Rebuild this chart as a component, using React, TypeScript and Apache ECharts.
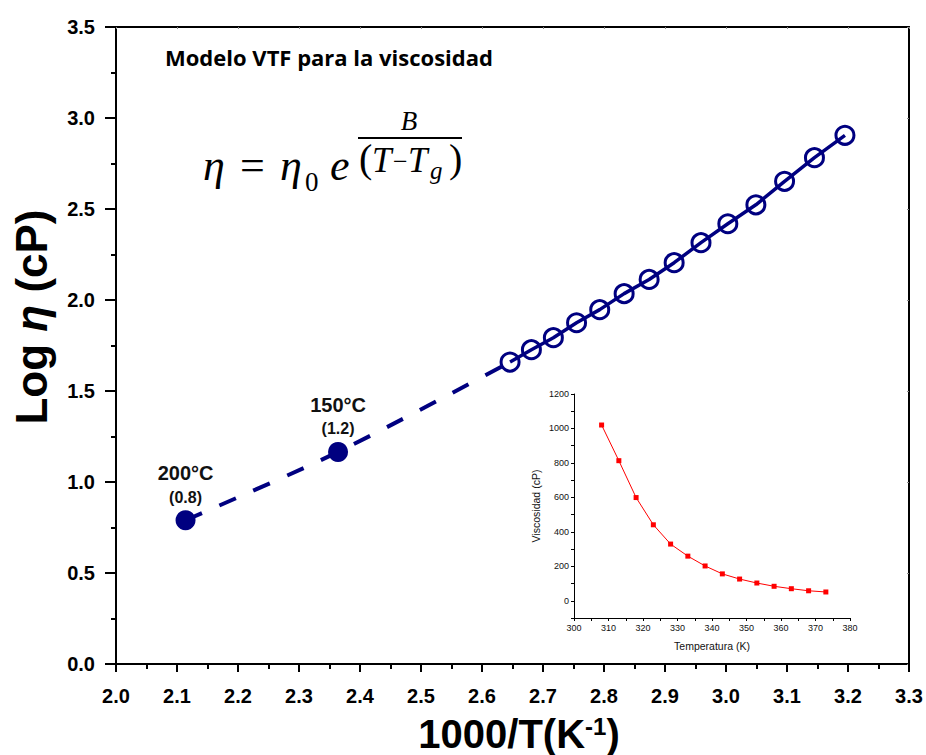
import React, { useEffect, useRef } from "react";
import * as echarts from "echarts";

// Main data: 1000/T vs log(viscosity)
const invT = [2.646, 2.681, 2.717, 2.755, 2.793, 2.833, 2.874, 2.915, 2.959, 3.003, 3.049, 3.096, 3.145, 3.195];
const logEta = [1.659, 1.727, 1.793, 1.875, 1.947, 2.035, 2.113, 2.205, 2.315, 2.419, 2.523, 2.652, 2.782, 2.905];

// Extrapolated high-temperature points
const hotInvT = [2.114, 2.364];
const hotLogEta = [0.79, 1.165];
const hotTemps = ["200°C", "150°C"];
const hotValues = ["(0.8)", "(1.2)"];

// Inset data: temperature (K) vs viscosity (cP)
const insetT = [308, 313, 318, 323, 328, 333, 338, 343, 348, 353, 358, 363, 368, 373];
const insetVisc = [1020, 813, 599, 441, 329, 259, 202, 156, 126, 103, 84, 70, 58, 51];

const NAVY = "#000080";

export default function App() {
  const ref = useRef<HTMLDivElement>(null);
  useEffect(() => {
    document.body.style.margin = "0";
    if (!ref.current) return;
    const chart = echarts.init(ref.current, undefined, { renderer: "svg" });

    const mainPts = invT.map((x, i) => [x, logEta[i]]);
    const hotPts = hotInvT.map((x, i) => ({
      value: [x, hotLogEta[i]],
      label: { formatter: `{a|${hotTemps[i]}}\n{b|${hotValues[i]}}` },
    }));
    const dashPts = [...hotInvT.map((x, i) => [x, hotLogEta[i]]), [invT[0], logEta[0]]];
    const insetPts = insetT.map((t, i) => [t, insetVisc[i]]);

    const black = "#000";
    const tickFont = { fontSize: 20, fontWeight: "bold" as const, color: black, fontFamily: "Liberation Sans, Arial" };
    const serif = "Liberation Serif";

    chart.setOption({
      animation: false,
      backgroundColor: "#fff",
      grid: [
        { left: 116, top: 27, width: 793, height: 637 },
        { left: 574, top: 394, width: 276, height: 224 },
      ],
      xAxis: [
        {
          type: "value", gridIndex: 0, min: 2.0, max: 3.3, interval: 0.1, position: "bottom",
          axisLine: { onZero: false, lineStyle: { color: black, width: 2 } },
          axisTick: { length: 8, lineStyle: { color: black, width: 2 } },
          minorTick: { show: true, splitNumber: 2, length: 5, lineStyle: { color: black, width: 2 } },
          splitLine: { show: false },
          axisLabel: { ...tickFont, margin: 22, formatter: (v: number) => v.toFixed(1) },
        },
        {
          type: "value", gridIndex: 0, min: 2.0, max: 3.3, interval: 0.1, position: "top",
          axisLine: { onZero: false, lineStyle: { color: black, width: 2 } },
          axisTick: { inside: true, length: 2, lineStyle: { color: "#888", width: 1 } },
          minorTick: { show: false },
          splitLine: { show: false },
          axisLabel: { show: false },
        },
        {
          type: "value", gridIndex: 1, min: 300, max: 380, interval: 10, position: "bottom",
          name: "Temperatura (K)", nameLocation: "middle", nameGap: 22,
          nameTextStyle: { fontSize: 10.5, color: "#111", fontFamily: "Liberation Sans, Arial" },
          axisLine: { onZero: false, lineStyle: { color: black, width: 1 } },
          axisTick: { length: 3, lineStyle: { color: black, width: 1 } },
          minorTick: { show: true, splitNumber: 2, length: 3, lineStyle: { color: black, width: 1 } },
          splitLine: { show: false },
          axisLabel: { fontSize: 9, color: "#111", margin: 5, fontFamily: "Liberation Sans, Arial" },
        },
      ],
      yAxis: [
        {
          type: "value", gridIndex: 0, min: 0, max: 3.5, interval: 0.5, position: "left",
          axisLine: { onZero: false, lineStyle: { color: black, width: 2 } },
          axisTick: { length: 11, lineStyle: { color: black, width: 2 } },
          minorTick: { show: true, splitNumber: 2, length: 5, lineStyle: { color: black, width: 2 } },
          splitLine: { show: false },
          axisLabel: { ...tickFont, margin: 21, formatter: (v: number) => v.toFixed(1) },
        },
        {
          type: "value", gridIndex: 0, min: 0, max: 3.5, interval: 0.5, position: "right",
          axisLine: { onZero: false, lineStyle: { color: black, width: 2 } },
          axisTick: { inside: true, length: 2, lineStyle: { color: "#888", width: 1 } },
          splitLine: { show: false },
          axisLabel: { show: false },
        },
        {
          type: "value", gridIndex: 1, min: -100, max: 1200, interval: 100, position: "left",
          name: "Viscosidad (cP)", nameLocation: "middle", nameGap: 33,
          nameTextStyle: { fontSize: 10.5, color: "#111", fontFamily: "Liberation Sans, Arial" },
          axisLine: { onZero: false, lineStyle: { color: black, width: 1 } },
          axisTick: { length: 3, lineStyle: { color: black, width: 1 } },
          splitLine: { show: false },
          axisLabel: {
            fontSize: 9, color: "#111", margin: 5, fontFamily: "Liberation Sans, Arial",
            formatter: (v: number) => (v >= 0 && v % 200 === 0 ? String(v) : ""),
          },
        },
      ],
      series: [
        {
          type: "line", xAxisIndex: 0, yAxisIndex: 0, data: dashPts, showSymbol: false, smooth: 0.3,
          lineStyle: { color: NAVY, width: 4, type: [18, 19] }, z: 2,
        },
        {
          type: "line", xAxisIndex: 0, yAxisIndex: 0, data: mainPts, showSymbol: false,
          lineStyle: { color: NAVY, width: 3.5 }, z: 2,
        },
        {
          type: "scatter", xAxisIndex: 0, yAxisIndex: 0, data: mainPts, symbol: "circle", symbolSize: 18,
          itemStyle: { color: "rgba(0,0,0,0)", borderColor: NAVY, borderWidth: 3, opacity: 1 }, z: 3,
        },
        {
          type: "scatter", xAxisIndex: 0, yAxisIndex: 0, data: hotPts, symbol: "circle", symbolSize: 20,
          itemStyle: { color: NAVY, opacity: 1 }, z: 3,
          label: {
            show: true, position: "top", distance: 2,
            rich: {
              a: { fontSize: 20, fontWeight: "bold", color: "#111", fontFamily: "Liberation Sans, Arial", lineHeight: 26 },
              b: { fontSize: 16, fontWeight: "bold", color: "#111", fontFamily: "Liberation Sans, Arial", lineHeight: 22 },
            },
          },
        },
        {
          type: "line", xAxisIndex: 2, yAxisIndex: 2, data: insetPts, symbol: "rect", symbolSize: 5,
          showSymbol: true, itemStyle: { color: "#ff0000" }, lineStyle: { color: "#ff0000", width: 1 },
        },
      ],
      graphic: [
        {
          type: "text", x: 165, y: 57,
          style: { text: "Modelo VTF para la viscosidad", font: "bold 22px 'Open Sans'", fill: "#000", textAlign: "left", textVerticalAlign: "middle" },
        },
        // Formula
        { type: "text", x: 203, y: 165, style: { text: "η", font: `italic 44px '${serif}'`, fill: "#000", textAlign: "left", textVerticalAlign: "middle" } },
        { type: "text", x: 240, y: 165, style: { text: "=", font: `44px '${serif}'`, fill: "#000", textAlign: "left", textVerticalAlign: "middle" } },
        { type: "text", x: 280, y: 165, style: { text: "η", font: `italic 44px '${serif}'`, fill: "#000", textAlign: "left", textVerticalAlign: "middle" } },
        { type: "text", x: 305, y: 182, style: { text: "0", font: `27px '${serif}'`, fill: "#000", textAlign: "left", textVerticalAlign: "middle" } },
        { type: "text", x: 330, y: 165, style: { text: "e", font: `italic 44px '${serif}'`, fill: "#000", textAlign: "left", textVerticalAlign: "middle" } },
        { type: "text", x: 409, y: 121, style: { text: "B", font: `italic 27px '${serif}'`, fill: "#000", textAlign: "center", textVerticalAlign: "middle" } },
        { type: "line", shape: { x1: 358, y1: 138, x2: 462, y2: 138 }, style: { stroke: "#000", lineWidth: 2 } },
        { type: "text", x: 359, y: 158, style: { text: "(", font: `40px '${serif}'`, fill: "#000", textAlign: "left", textVerticalAlign: "middle" } },
        { type: "text", x: 372, y: 160, style: { text: "T", font: `italic 35px '${serif}'`, fill: "#000", textAlign: "left", textVerticalAlign: "middle" } },
        { type: "text", x: 393, y: 161, style: { text: "−", font: `26px '${serif}'`, fill: "#000", textAlign: "left", textVerticalAlign: "middle" } },
        { type: "text", x: 408, y: 160, style: { text: "T", font: `italic 35px '${serif}'`, fill: "#000", textAlign: "left", textVerticalAlign: "middle" } },
        { type: "text", x: 430, y: 170, style: { text: "g", font: `italic 25px '${serif}'`, fill: "#000", textAlign: "left", textVerticalAlign: "middle" } },
        { type: "text", x: 449, y: 158, style: { text: ")", font: `40px '${serif}'`, fill: "#000", textAlign: "left", textVerticalAlign: "middle" } },
        // Axis titles
        {
          type: "text", x: 31, y: 317, rotation: Math.PI / 2,
          style: {
            text: "{a|Log }{b|η}{a| (cP)}", textAlign: "center", textVerticalAlign: "middle",
            rich: {
              a: { fontSize: 44, fontWeight: "bold", fontFamily: "Liberation Sans", fill: "#000" },
              b: { fontSize: 44, fontWeight: "bold", fontStyle: "italic", fontFamily: "Liberation Sans", fill: "#000" },
            },
          },
        },
        {
          type: "text", x: 519, y: 734,
          style: {
            text: "{a|1000/T(K}{s|-1}{a|)}", textAlign: "center", textVerticalAlign: "middle",
            rich: {
              a: { fontSize: 40, fontWeight: "bold", fontFamily: "Liberation Sans", fill: "#000", lineHeight: 40 },
              s: { fontSize: 24, fontWeight: "bold", fontFamily: "Liberation Sans", fill: "#000", verticalAlign: "top", lineHeight: 40 },
            },
          },
        },
      ],
    });
    return () => chart.dispose();
  }, []);
  return <div ref={ref} style={{ width: 926, height: 755 }} />;
}
